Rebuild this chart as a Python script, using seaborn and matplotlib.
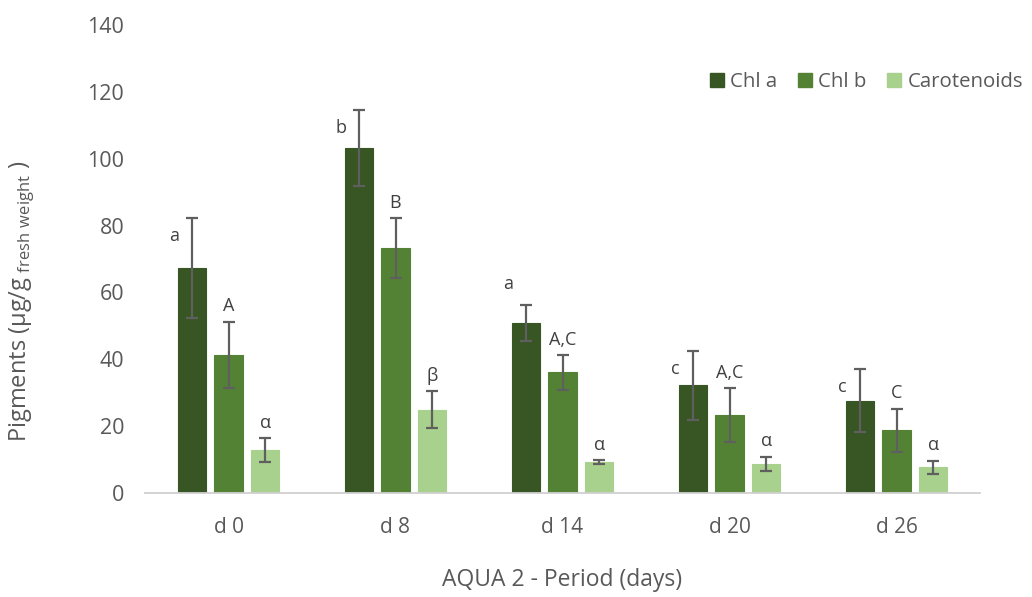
import matplotlib
matplotlib.use("Agg")
import matplotlib.pyplot as plt
import seaborn as sns
import pandas as pd
import numpy as np

# ---- data ----
periods = ["d 0", "d 8", "d 14", "d 20", "d 26"]
series = ["Chl a", "Chl b", "Carotenoids"]
chl_a = [67.3, 103.2, 50.8, 32.2, 27.6]
chl_a_err = [15.0, 11.4, 5.3, 10.3, 9.5]
chl_b = [41.3, 73.3, 36.1, 23.4, 18.8]
chl_b_err = [10.0, 9.0, 5.2, 8.0, 6.4]
carot = [12.9, 24.9, 9.2, 8.8, 7.7]
carot_err = [3.6, 5.6, 0.6, 2.1, 2.0]
letters_a = ["a", "b", "a", "c", "c"]
letters_b = ["A", "B", "A,C", "A,C", "C"]
letters_c = ["α", "β", "α", "α", "α"]

values = {"Chl a": chl_a, "Chl b": chl_b, "Carotenoids": carot}
errors = {"Chl a": chl_a_err, "Chl b": chl_b_err, "Carotenoids": carot_err}
letters = {"Chl a": letters_a, "Chl b": letters_b, "Carotenoids": letters_c}

rows = []
for s in series:
    for p, v in zip(periods, values[s]):
        rows.append({"Period": p, "Pigment": s, "Value": v})
df = pd.DataFrame(rows)

colors = ["#375623", "#548235", "#A9D18E"]
text_col = "#595959"

sns.set_theme(style="white")
plt.rcParams["font.family"] = ["Open Sans", "DejaVu Sans"]
plt.rcParams["mathtext.fontset"] = "custom"
plt.rcParams["mathtext.rm"] = "Open Sans"

fig = plt.figure(figsize=(10.32, 5.97), dpi=100)
ax = fig.add_axes([145 / 1032, 1 - 493 / 597, (980 - 145) / 1032, (493 - 25) / 597])

sns.barplot(data=df, x="Period", y="Value", hue="Pigment", order=periods,
            hue_order=series, palette=colors, width=0.657, gap=0.23,
            errorbar=None, ax=ax, legend=True, saturation=1)

for s, cont in zip(series, ax.containers):
    for i, bar in enumerate(cont):
        bar.set_edgecolor(bar.get_facecolor())
        bar.set_linewidth(0.8)
        cx = bar.get_x() + bar.get_width() / 2
        top = bar.get_height() + errors[s][i]
        ax.errorbar(cx, bar.get_height(), yerr=errors[s][i], fmt="none",
                    ecolor="#5f5f5f", elinewidth=1.6, capsize=4.5, capthick=1.6,
                    zorder=5)
        lab = letters[s][i]
        if s == "Chl a":
            dy = 6.5 if i == 2 else -5.5
            ax.annotate(lab, (cx, top + dy), xytext=(-13, 0), textcoords="offset points",
                        ha="center", va="center", fontsize=13, color="#404040")
        else:
            ax.annotate(lab, (cx, top), xytext=(0, 11), textcoords="offset points",
                        ha="center", va="center", fontsize=13, color="#404040")

ax.set_ylim(0, 140)
ax.set_yticks(np.arange(0, 141, 20))
ax.set_xlim(-0.5, 4.5)
for sp in ["top", "right", "left"]:
    ax.spines[sp].set_visible(False)
ax.spines["bottom"].set_color("#d0d0d0")
ax.spines["bottom"].set_linewidth(1.3)
ax.tick_params(axis="y", length=0, pad=15, labelsize=15.5, labelcolor=text_col)
ax.tick_params(axis="x", length=0, pad=17, labelsize=15, labelcolor=text_col)

ax.set_xlabel("AQUA 2 - Period (days)", fontsize=16.5, color=text_col, labelpad=22)
ax.set_ylabel(r"Pigments (μg/g$_{\mathregular{\ fresh\ weight}}$ )", fontsize=17, color=text_col)
ax.yaxis.set_label_coords(-0.13, 0.41)

ax.legend_.remove()
handles = [plt.Rectangle((0, 0), 1, 1, color=c) for c in colors]
fig.legend(handles, series, loc="center right", bbox_to_anchor=(1.009, 1 - 82 / 597),
           ncol=3, frameon=False, fontsize=14.7, labelcolor=text_col,
           handlelength=0.7, handleheight=0.7, handletextpad=0.3, columnspacing=1.0)

fig.savefig("out.png", dpi=100)
